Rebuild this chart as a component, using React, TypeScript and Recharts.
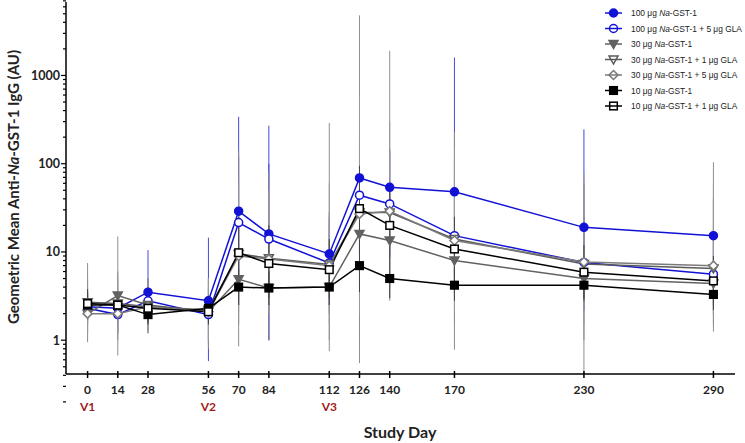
import React from "react";
import { LineChart, Line, XAxis, YAxis, ErrorBar } from "recharts";

// study days and visit markers
const days = [0, 14, 28, 56, 70, 84, 112, 126, 140, 170, 230, 290];
const visitDays = [0, 56, 112];
const visitLabels = ["V1", "V2", "V3"];
const yMajorTicks = [1, 10, 100, 1000];
const yMinorSteps = [2, 3, 4, 5, 6, 7, 8, 9];

// geometric means per group
const g100 = [2.4, 2.3, 3.5, 2.8, 29, 16, 9.5, 69, 54, 48, 19, 15.3];
const g100gla5 = [2.3, 1.95, 2.8, 1.95, 21.5, 14, 7.5, 44, 35, 15.3, 7.6, 5.6];
const g30 = [2.0, 3.2, 2.5, 2.1, 4.9, 3.9, 4.0, 16, 13.5, 8.0, 5.0, 4.4];
const g30gla1 = [2.7, 2.6, 2.4, 2.2, 9.5, 8.5, 7.2, 28, 28, 14, 7.3, 6.5];
const g30gla5 = [2.0, 2.0, 2.4, 2.1, 9.0, 8.3, 7.0, 27, 29, 13.5, 7.7, 7.0];
const g10 = [2.5, 2.5, 1.95, 2.3, 4.0, 3.9, 4.0, 7.0, 5.0, 4.2, 4.2, 3.3];
const g10gla1 = [2.6, 2.5, 2.3, 2.1, 9.8, 7.4, 6.3, 31, 20, 10.8, 5.9, 4.7];

// 95% CI bounds
const g100Low = [1.6, 1.5, 1.3, 0.58, 2.5, 1.0, 2.5, 9.6, 8.7, 3.3, 2.15, 6];
const g100High = [3.4, 3.3, 10.5, 14.5, 340, 270, 25, 195, 145, 1600, 245, 40];
const g100gla5Low = [1.5, 1.2, 1.6, 0.9, 3.0, 1.0, 2.0, 10, 9, 3.5, 2.2, 2.0];
const g100gla5High = [3.3, 3.0, 5, 4, 120, 100, 28, 190, 140, 60, 25, 15];
const g30Low = [0.95, 0.67, 1.2, 0.8, 0.85, 1.0, 0.75, 0.55, 2.8, 0.78, 0.42, 1.25];
const g30High = [7.5, 15, 5, 5, 30, 20, 20, 400, 60, 100, 60, 20];
const g30gla1Low = [1.2, 1.0, 1.2, 1.0, 1.5, 2.0, 1.0, 1.0, 3.0, 1.5, 1.0, 1.5];
const g30gla1High = [5, 6, 5, 5, 140, 80, 290, 4800, 1900, 230, 60, 104];
const g30gla5Low = [1.2, 1.2, 1.2, 1.0, 2.0, 2.0, 1.5, 2.0, 4, 2, 1.5, 2];
const g30gla5High = [4, 5, 5, 5, 60, 50, 60, 600, 300, 150, 80, 60];
const g10Low = [1.8, 1.8, 1.5, 1.6, 2.5, 2.5, 2.5, 3.5, 3.0, 2.8, 2.8, 2.2];
const g10High = [3.5, 3.5, 2.6, 3.2, 6.5, 6, 6.5, 14, 8, 6.5, 6.5, 5];
const g10gla1Low = [1.8, 1.8, 1.6, 1.5, 4, 3, 3, 10, 8, 5, 3, 2.5];
const g10gla1High = [3.8, 3.5, 3.3, 3.0, 25, 20, 14, 95, 50, 25, 12, 9];

const BLUE = "#1212d6";
const series = [
  { key: "s1", dose: "100", gla: "", values: g100, low: g100Low, high: g100High, color: BLUE, bar: "#4848d8", shape: "circle", filled: true },
  { key: "s2", dose: "100", gla: " + 5 μg GLA", values: g100gla5, low: g100gla5Low, high: g100gla5High, color: BLUE, bar: "#4848d8", shape: "circle", filled: false },
  { key: "s3", dose: "30", gla: "", values: g30, low: g30Low, high: g30High, color: "#626262", bar: "#8e8e8e", shape: "tri", filled: true },
  { key: "s4", dose: "30", gla: " + 1 μg GLA", values: g30gla1, low: g30gla1Low, high: g30gla1High, color: "#5a5a5a", bar: "#8e8e8e", shape: "tri", filled: false },
  { key: "s5", dose: "30", gla: " + 5 μg GLA", values: g30gla5, low: g30gla5Low, high: g30gla5High, color: "#7a7a7a", bar: "#999999", shape: "diamond", filled: false },
  { key: "s6", dose: "10", gla: "", values: g10, low: g10Low, high: g10High, color: "#000000", bar: "#444444", shape: "square", filled: true },
  { key: "s7", dose: "10", gla: " + 1 μg GLA", values: g10gla1, low: g10gla1Low, high: g10gla1High, color: "#000000", bar: "#444444", shape: "square", filled: false },
];

const data = days.map((day, i) => {
  const row: any = { day };
  series.forEach((s) => {
    row[s.key] = s.values[i];
    row[s.key + "Err"] = [s.values[i] - s.low[i], s.high[i] - s.values[i]];
  });
  return row;
});

const yTicks: number[] = [];
[0.1, 1, 10, 100, 1000].forEach((d) => {
  if (d >= 1) yTicks.push(d);
  yMinorSteps.forEach((m) => yTicks.push(m * d));
});

const FONT = "Lato, 'Open Sans', sans-serif";

const Marker = ({ cx, cy, shape, filled, color, legend }: any) => {
  const fill = filled ? color : legend ? "none" : "#fff";
  const sw = 1.5;
  if (shape === "circle") return <circle cx={cx} cy={cy} r={4} fill={fill} stroke={color} strokeWidth={sw} />;
  if (shape === "tri")
    return <polygon points={`${cx - 4.5},${cy - 3.5} ${cx + 4.5},${cy - 3.5} ${cx},${cy + 4.5}`} fill={fill} stroke={color} strokeWidth={sw} />;
  if (shape === "diamond")
    return <polygon points={`${cx},${cy - 4.5} ${cx + 4.5},${cy} ${cx},${cy + 4.5} ${cx - 4.5},${cy}`} fill={fill} stroke={color} strokeWidth={sw} />;
  return <rect x={cx - 3.8} y={cy - 3.8} width={7.6} height={7.6} fill={fill} stroke={color} strokeWidth={sw} />;
};

const XTick = ({ x, y, payload }: any) => {
  const vi = visitDays.indexOf(payload.value);
  return (
    <g>
      <line x1={x} x2={x} y1={y - 3} y2={y + 4} stroke="#000" strokeWidth={1.5} />
      <text x={x} y={y + 20} textAnchor="middle" fontFamily={FONT} fontWeight={700} fontSize={12} fill="#222">
        {payload.value}
      </text>
      {vi >= 0 && (
        <text x={x} y={y + 37} textAnchor="middle" fontFamily={FONT} fontWeight={700} fontSize={12} fill="#9e1b1b">
          {visitLabels[vi]}
        </text>
      )}
    </g>
  );
};

const YTick = ({ x, y, payload }: any) => {
  const major = yMajorTicks.includes(payload.value);
  return (
    <g>
      <line x1={x - (major ? 5 : 3)} x2={x} y1={y} y2={y} stroke="#000" strokeWidth={1.2} />
      {major && (
        <text x={x - 6} y={y + 4.5} textAnchor="end" fontFamily={FONT} fontWeight={700} fontSize={12.5} fill="#222">
          {payload.value}
        </text>
      )}
    </g>
  );
};

const LegendBox = () => (
  <svg width={145} height={115} style={{ position: "absolute", left: 600, top: 5 }}>
    {series.map((s, i) => {
      const cy = 8 + i * 15.5;
      return (
        <g key={s.key}>
          <line x1={5} x2={22} y1={cy} y2={cy} stroke={s.color} strokeWidth={1.5} />
          <Marker cx={13.5} cy={cy} shape={s.shape} filled={s.filled} color={s.color} legend />
          <text x={31} y={cy + 3} fontFamily="'Liberation Sans', Arial, sans-serif" fontSize={8.4} fill="#222">
            {s.dose} μg <tspan fontStyle="italic">Na</tspan>-GST-1{s.gla}
          </text>
        </g>
      );
    })}
  </svg>
);

export default function App() {
  return (
    <div style={{ position: "absolute", left: 0, top: 0, width: 745, height: 443, background: "#fff" }}>
      <LineChart width={745} height={443} data={data} margin={{ top: 2, right: 10, bottom: 0, left: 0 }}>
        <XAxis
          dataKey="day"
          type="number"
          domain={[-10, 300]}
          allowDataOverflow
          ticks={days}
          tick={<XTick />}
          tickLine={false}
          tickSize={0}
          tickMargin={0}
          height={69}
          axisLine={{ stroke: "#000", strokeWidth: 1.5 }}
          interval={0}
        />
        <YAxis
          scale="log"
          domain={[0.414, 6800]}
          allowDataOverflow
          ticks={yTicks}
          tick={<YTick />}
          tickLine={false}
          tickSize={0}
          tickMargin={0}
          width={66}
          axisLine={{ stroke: "#000", strokeWidth: 1.5 }}
          interval={0}
        />
        {series.map((s) => (
          <Line key={s.key + "bar"} dataKey={s.key} stroke="none" dot={false} legendType="none" isAnimationActive={false}>
            <ErrorBar dataKey={s.key + "Err"} width={0} stroke={s.bar} strokeWidth={1} direction="y" />
          </Line>
        ))}
        {series.map((s) => (
          <Line
            key={s.key}
            dataKey={s.key}
            stroke={s.color}
            strokeWidth={1.5}
            isAnimationActive={false}
            dot={(p: any) => (
              <Marker key={`${s.key}-${p.index}`} cx={p.cx} cy={p.cy} shape={s.shape} filled={s.filled} color={s.color} />
            )}
            activeDot={false}
          />
        ))}
        <text
          x={13}
          y={187}
          transform="rotate(-90 13 187)"
          textAnchor="middle"
          dominantBaseline="central"
          fontFamily={FONT}
          fontWeight={700}
          fontSize={15}
          fill="#222"
        >
          Geometric Mean Anti-<tspan fontStyle="italic">Na</tspan>-GST-1 IgG (AU)
        </text>
        <text x={400} y={438} textAnchor="middle" fontFamily={FONT} fontWeight={700} fontSize={16} fill="#222">
          Study Day
        </text>
      </LineChart>
      <LegendBox />
    </div>
  );
}
